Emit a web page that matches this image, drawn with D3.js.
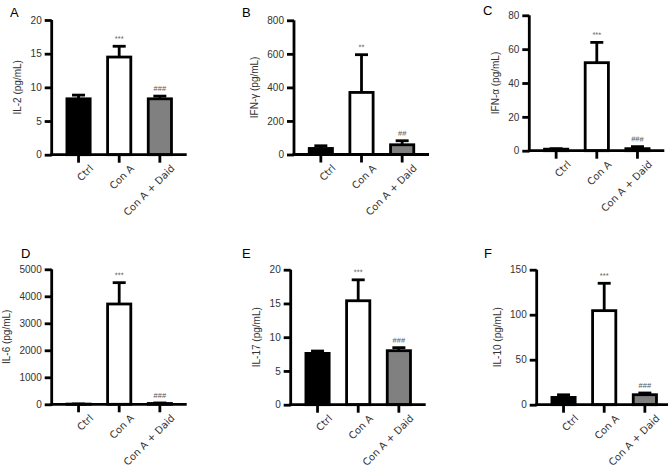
<!DOCTYPE html>
<html>
<head>
<meta charset="utf-8">
<script src="https://cdn.jsdelivr.net/npm/d3@7"></script>
<style>
  html, body { margin: 0; padding: 0; background: #fff; }
  svg { display: block; }
  text { font-family: "Liberation Sans", Arial, sans-serif; }
</style>
</head>
<body>
<svg id="chart" width="668" height="466"></svg>
<script>
// ---------- data ----------
const groups = ["Ctrl", "Con A", "Con A + Daid"];
const panelLetters = ["A", "B", "C", "D", "E", "F"];
const yLabels = ["IL-2 (pg/mL)", "IFN-\u03b3 (pg/mL)", "IFN-\u03b1 (pg/mL)", "IL-6 (pg/mL)", "IL-17 (pg/mL)", "IL-10 (pg/mL)"];
const yMax = [20, 800, 80, 5000, 20, 150];
const yTickStep = [5, 200, 20, 1000, 5, 50];

const il2Mean  = [8.3, 14.5, 8.3];     const il2Err  = [0.55, 1.6, 0.4];
const ifngMean = [36, 370, 58];        const ifngErr = [16, 225, 24];
const ifnaMean = [0.9, 52, 1.2];       const ifnaErr = [0.3, 12, 1.2];
const il6Mean  = [8, 3715, 30];        const il6Err  = [4, 790, 20];
const il17Mean = [7.6, 15.4, 8.0];     const il17Err = [0.35, 3.1, 0.45];
const il10Mean = [8.1, 104.5, 11.1];   const il10Err = [2.9, 30.4, 1.9];

const means = [il2Mean, ifngMean, ifnaMean, il6Mean, il17Mean, il10Mean];
const errs  = [il2Err, ifngErr, ifnaErr, il6Err, il17Err, il10Err];
const sig = [
  ["", "***", "###"],
  ["", "**", "##"],
  ["", "***", "###"],
  ["", "***", "###"],
  ["", "***", "###"],
  ["", "***", "###"]
];
const fills = ["#000000", "#ffffff", "#808080"];

// ---------- layout ----------
const panelPos = [
  { x0: 51.7,  yTop: 20,    yBot: 154.7, lx: 10,  ly: 17 },
  { x0: 294,   yTop: 20.3,  yBot: 154.5, lx: 242, ly: 17 },
  { x0: 529.3, yTop: 15.3,  yBot: 150.7, lx: 483, ly: 15 },
  { x0: 51.7,  yTop: 269.3, yBot: 404.3, lx: 21,  ly: 258 },
  { x0: 290.7, yTop: 269.7, yBot: 404.7, lx: 242, ly: 258 },
  { x0: 536.7, yTop: 269.7, yBot: 404.7, lx: 484, ly: 258 }
];
const axisLen = 135;
const LW = 2.8;

const svg = d3.select("#chart");

panelPos.forEach((p, i) => {
  const g = svg.append("g");
  const x = d3.scaleBand().domain(groups).range([p.x0, p.x0 + axisLen])
    .paddingInner(0.36).paddingOuter(0.34);
  const y = d3.scaleLinear().domain([0, yMax[i]]).range([p.yBot, p.yTop]);

  // bars
  const bw = x.bandwidth();
  groups.forEach((grp, j) => {
    const v = means[i][j], e = errs[i][j];
    const cx = x(grp) + bw / 2;
    // error bar (upper only)
    g.append("line").attr("x1", cx).attr("x2", cx)
      .attr("y1", y(v)).attr("y2", y(v + e))
      .attr("stroke", "#000").attr("stroke-width", LW);
    g.append("line").attr("x1", cx - 6.5).attr("x2", cx + 6.5)
      .attr("y1", y(v + e)).attr("y2", y(v + e))
      .attr("stroke", "#000").attr("stroke-width", LW);
    g.append("rect")
      .attr("x", x(grp) + LW / 2).attr("width", bw - LW)
      .attr("y", y(v)).attr("height", Math.max(0, y(0) - y(v)))
      .attr("fill", fills[j]).attr("stroke", "#000").attr("stroke-width", LW);
    if (sig[i][j]) {
      const ty = y(v + e) - 5;
      g.append("text").attr("x", cx).attr("y", ty)
        .attr("transform", `rotate(0.05,${cx},${ty})`)
        .attr("text-anchor", "middle").attr("font-size", 7.5)
        .attr("fill", "#555").text(sig[i][j]);
    }
  });

  // y axis
  const yAxis = d3.axisLeft(y).tickValues(d3.range(0, yMax[i] + 1e-9, yTickStep[i]))
    .tickFormat(d3.format("d"))
    .tickSize(7).tickPadding(3).tickSizeOuter(0);
  const ya = g.append("g").attr("transform", `translate(${p.x0},0)`).call(yAxis);
  ya.select(".domain").attr("stroke", "#000").attr("stroke-width", LW)
    .attr("d", `M0,${p.yTop}V${p.yBot + LW / 2}`);
  ya.selectAll(".tick line").attr("stroke", "#000").attr("stroke-width", LW);
  ya.selectAll(".tick text").attr("font-size", 10).attr("fill", "#333");

  // x axis
  const xAxis = d3.axisBottom(x).tickSize(8).tickSizeOuter(0);
  const xa = g.append("g").attr("transform", `translate(0,${p.yBot})`).call(xAxis);
  xa.select(".domain").attr("stroke", "#000").attr("stroke-width", LW)
    .attr("d", `M${p.x0 - LW / 2},0H${p.x0 + axisLen}`);
  xa.selectAll(".tick line").attr("stroke", "#000").attr("stroke-width", LW);
  xa.selectAll(".tick text")
    .style("font-family", "'DejaVu Sans', sans-serif")
    .attr("font-size", 10).attr("fill", "#333")
    .attr("text-anchor", "end")
    .attr("transform", "translate(4,3) rotate(-45)")
    .attr("dy", "0.71em").attr("y", 9).attr("x", 0);

  // y label
  const bb = ya.node().getBBox();
  const lxc = p.x0 + bb.x - 13;
  g.append("text")
    .attr("transform", `translate(${lxc},${(p.yTop + p.yBot) / 2}) rotate(-90)`)
    .attr("text-anchor", "middle").attr("dy", "0.35em")
    .attr("font-size", 10).attr("fill", "#333").text(yLabels[i]);

  // panel letter
  svg.append("text").attr("x", p.lx).attr("y", p.ly)
    .attr("font-size", 13).attr("fill", "#000").text(panelLetters[i]);
});
</script>
</body>
</html>
